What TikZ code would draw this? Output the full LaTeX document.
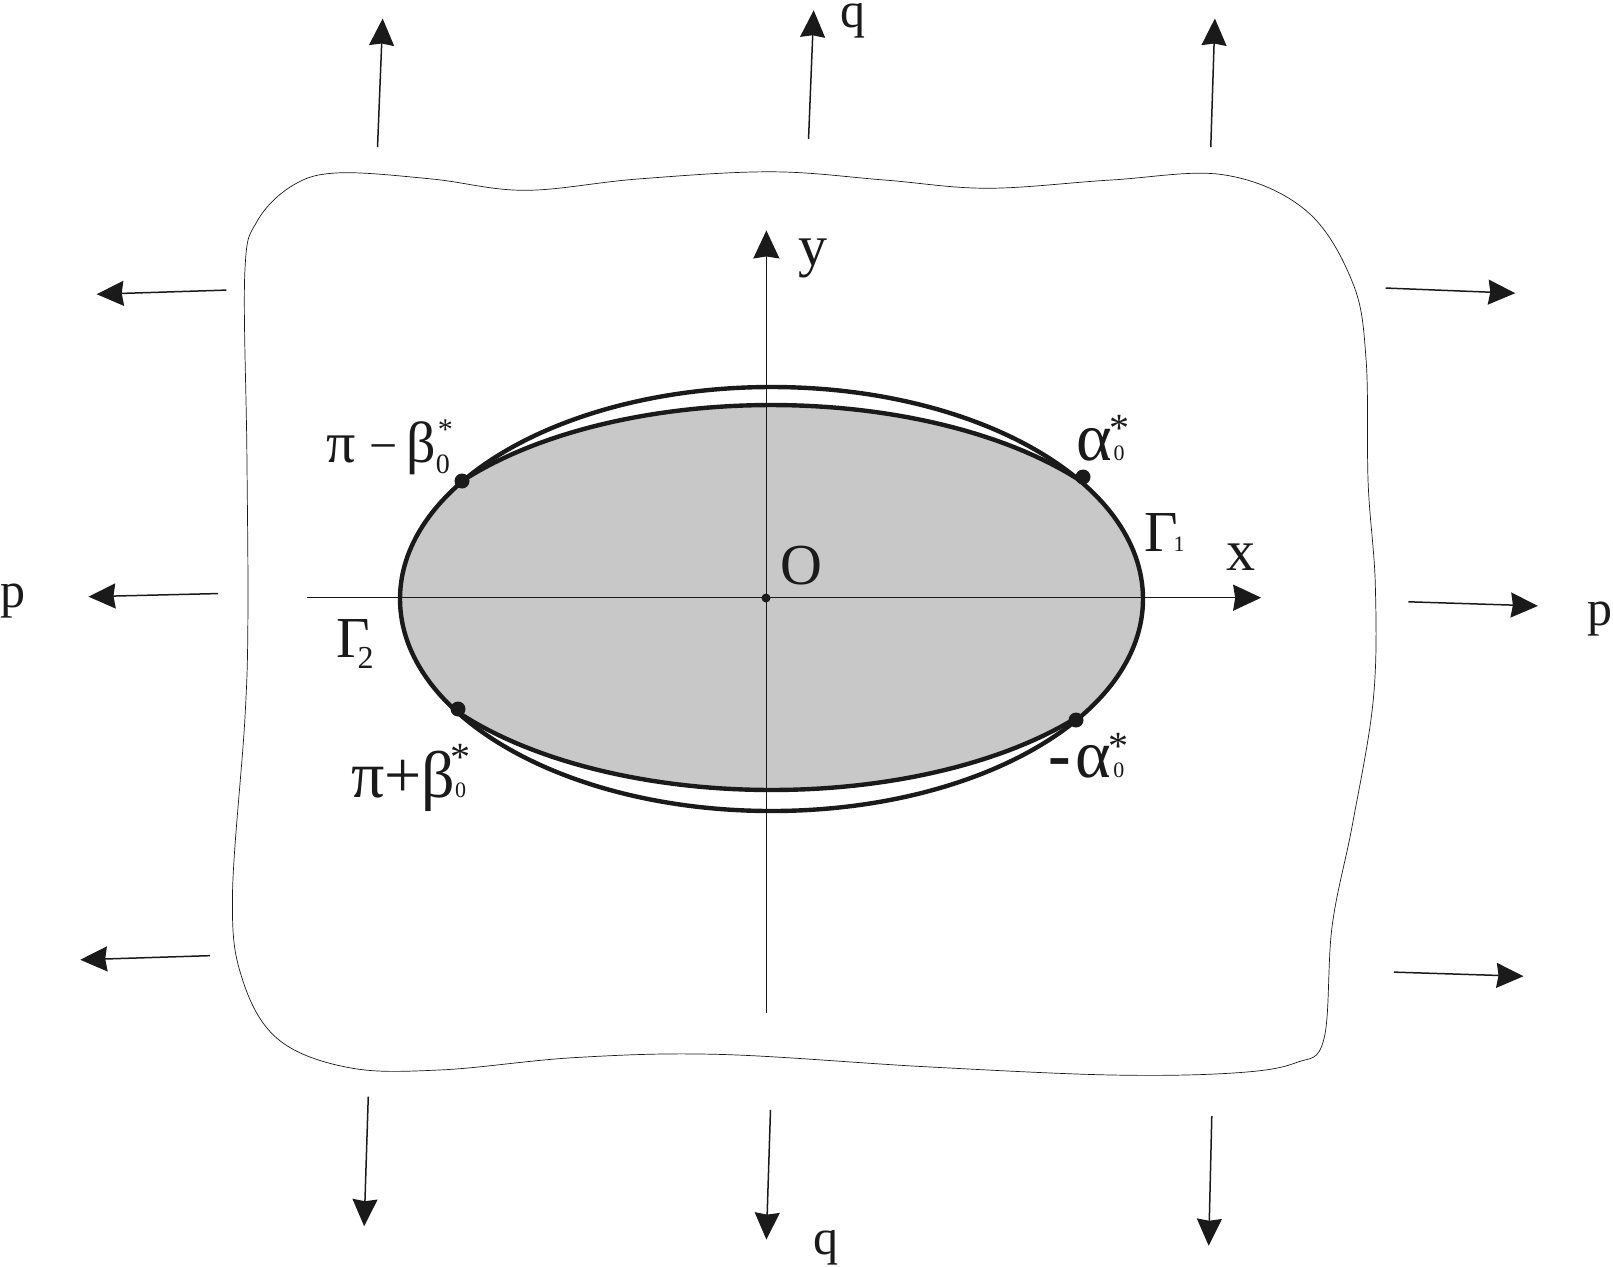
\documentclass[tikz,border=0pt]{standalone}
\usepackage{fontspec}
\setmainfont{Liberation Serif}
\usetikzlibrary{arrows.meta}
\definecolor{ink}{HTML}{1A1A1A}
\definecolor{holegray}{HTML}{C8C8C8}
\newcommand\fs[1]{\fontsize{#1}{#1}\selectfont}
\newcommand\subsup[5]{\raisebox{#2}{\fs{#1}0}\kern#3\raisebox{#4}{\fs{#5}*}}
\tikzset{
  load/.style={draw=ink,line width=0.75pt,-{Stealth[length=13.5pt,width=12.5pt,inset=1pt]}},
  axisline/.style={draw=ink,line width=0.8pt,-{Stealth[length=14pt,width=13pt,inset=1pt]}},
  curve/.style={draw=ink,line width=2.2pt},
  outline/.style={draw=ink,line width=0.35pt},
  lab/.style={inner sep=0pt,outer sep=0pt,text=ink,font=\fs{29}},
  dot/.style={circle,fill=ink,inner sep=0pt,minimum size=#1}
}
\begin{document}
\begin{tikzpicture}[x=0.5pt,y=-0.5pt]
\useasboundingbox (0,0) rectangle (1613,1266);
% shaded section
\fill[holegray]
  plot[domain=147:213.5,samples=40,variable=\t] ({771.5+371.5*cos(\t)},{599+212*sin(\t)})
  -- plot[domain=-142.7:-36.9,samples=60,variable=\t] ({771.5+389*cos(\t)},{598+193*sin(\t)})
  -- plot[domain=-33:35,samples=40,variable=\t] ({771.5+371.5*cos(\t)},{599+212*sin(\t)})
  -- plot[domain=38.7:143.5,samples=60,variable=\t] ({771.5+390*cos(\t)},{598+192*sin(\t)})
  -- cycle;
\begin{scope}[x=0.51435pt,y=-0.51435pt]
% plate outline
\draw[outline] plot[smooth cycle,tension=0.6] coordinates {
 (238,265) (250,215) (285,180) (330,168) (420,174) (510,185) (620,174) (750,167)
 (860,175) (960,183) (1080,175) (1190,170) (1270,205) (1315,275) (1328,350) (1330,470)
 (1337,570) (1335,680) (1315,800) (1295,900) (1287,1010) (1260,1033) (1200,1043) (1080,1045)
 (900,1037) (700,1025) (560,1028) (430,1040) (340,1038) (270,1010) (235,950) (226,870)
 (238,700) (241,600) (240,440)};
% axes
\coordinate (xs) at (298,581); \coordinate (xe) at (1226,581);
\coordinate (ys) at (745,985); \coordinate (ye) at (745,224);
\draw[axisline] (xs) -- (xe);
\draw[axisline] (ys) -- (ye);
% load arrows
\draw[load] (367,143) -- (372,18);
\draw[load] (786,135) -- (791,10);
\draw[load] (1177,143) -- (1181,18);
\draw[load] (220,282) -- (94,286);
\draw[load] (212,577) -- (86,580);
\draw[load] (204,929) -- (78,933);
\draw[load] (1347,280) -- (1473,285);
\draw[load] (1369,585) -- (1495,589);
\draw[load] (1355,945) -- (1481,949);
\draw[load] (358,1066) -- (354,1192);
\draw[load] (749,1079) -- (745,1205);
\draw[load] (1178,1085) -- (1175,1211);
\end{scope}
% hole curves
\draw[curve] (771.5,599) ellipse [x radius=185.75pt,y radius=106pt];
\draw[curve] plot[domain=-142.7:-36.9,samples=60,variable=\t] ({771.5+389*cos(\t)},{598+193*sin(\t)});
\draw[curve] plot[domain=38.7:143.5,samples=60,variable=\t] ({771.5+390*cos(\t)},{598+192*sin(\t)});
% points
\node[dot=7.5pt] (pa) at (1083,477) {};
\node[dot=7.5pt] (pb) at (462,481) {};
\node[dot=7.5pt] (pc) at (458,709) {};
\node[dot=7.5pt] (pd) at (1076,720) {};
\node[dot=4.5pt] (o) at (766,598) {};
% labels
\node[lab] (ly) at (813,258) {y};
\node[lab,font=\fs{25}] (lq1) at (853,21) {q};
\node[lab,font=\fs{25}] (lq2) at (826,1248) {q};
\node[lab,font=\fs{25}] (lp1) at (13,601) {p};
\node[lab,font=\fs{25}] (lp2) at (1600,619) {p};
\node[lab] (lo) at (801,566) {O};
\node[lab] (lx) at (1241,557) {x};
\node[lab,anchor=base west] (g1) at (1144,551) {Γ\kern-2pt\fs{11}1};
\node[lab,anchor=base west] (g2) at (336,657) {Γ\kern-6pt\raisebox{-5.5pt}{\fs{16}2}};
\node[lab,anchor=base west,font=\fs{34}] (a1) at (1076,460) {α\kern1pt\subsup{11}{0pt}{-7.75pt}{9.5pt}{20}};
\node[lab,anchor=base west,font=\fs{34}] (a2) at (1048,777) {\textbf{-}\kern2.5ptα\kern1pt\subsup{11}{0pt}{-7.75pt}{9pt}{20}};
\node[lab,anchor=base west] (b1) at (326,462) {π {\fs{25}−} \kern-3ptβ\subsup{14}{-5.5pt}{-6pt}{11.5pt}{15}};
\node[lab,anchor=base west,font=\fs{33}] (b2) at (351,797) {π+β\subsup{11}{0pt}{-7.75pt}{13.5pt}{20}};
\end{tikzpicture}
\end{document}
